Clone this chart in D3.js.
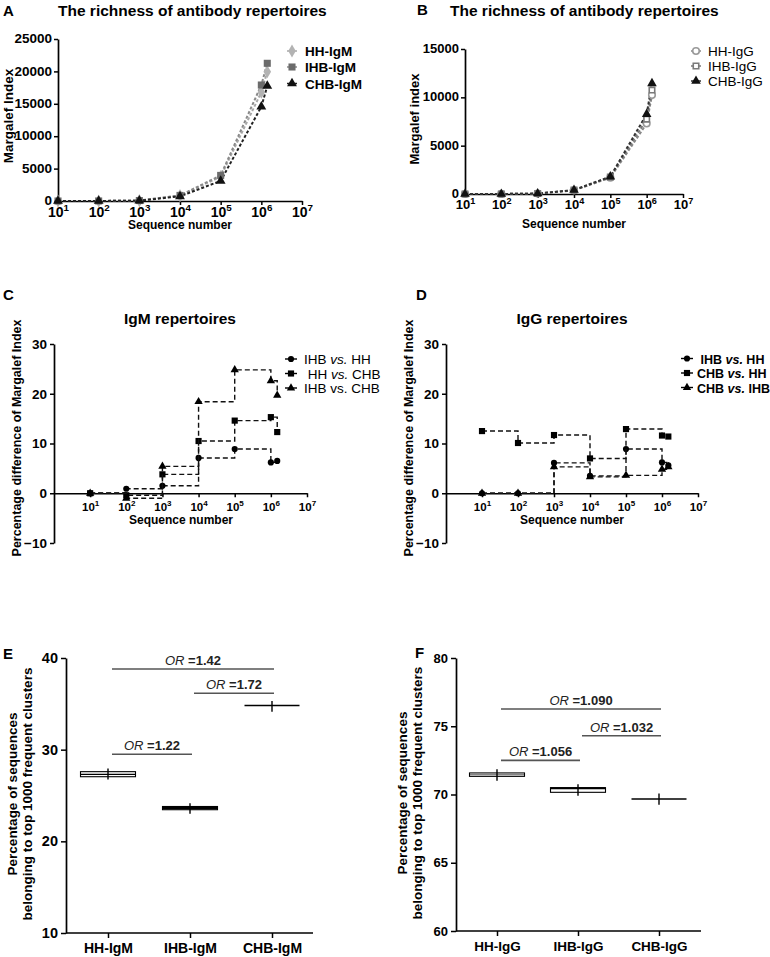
<!DOCTYPE html>
<html><head><meta charset="utf-8">
<script src="https://cdn.jsdelivr.net/npm/d3@7"></script>
<style>
body{margin:0;background:#fff;}
svg{font-family:"Liberation Sans",Arial,sans-serif;}
</style></head><body>
<svg id="c" width="770" height="957"></svg>
<script>
// ---------- Panel A / B data (Margalef index vs sequence number) ----------
const seqNumbers = [1e1, 1e2, 1e3, 1e4, 1e5, 1e6, 1.4e6];
const decades = [1e1, 1e2, 1e3, 1e4, 1e5, 1e6, 1e7];
const hhIgM  = [0, 5, 60, 820, 3750, 16800, 19950];
const ihbIgM = [0, 5, 70, 860, 3950, 17900, 21250];
const chbIgM = [0, 5, 55, 720, 3100, 14550, 17750];
const hhIgG  = [0, 5, 40, 380, 1690, 7290, 10230];
const ihbIgG = [0, 5, 45, 400, 1750, 7740, 10750];
const chbIgG = [0, 5, 45, 410, 1800, 8260, 11440];
const richTicksA = [0, 5000, 10000, 15000, 20000, 25000];
const richTicksB = [0, 5000, 10000, 15000];
const legendA = ["HH-IgM", "IHB-IgM", "CHB-IgM"];
const legendB = ["HH-IgG", "IHB-IgG", "CHB-IgG"];

// ---------- Panel C / D data (percentage difference) ----------
const seqDiff = [1e1, 1e2, 1e3, 1e4, 1e5, 1e6, 1.5e6];
const igmIHBvsHH  = [0, 0.9, 1.5, 7.1, 8.9, 6.2, 6.5];
const igmHHvsCHB  = [0, -0.4, 3.8, 10.5, 14.6, 15.3, 12.3];
const igmIHBvsCHB = [0, -1.0, 5.4, 18.4, 24.8, 22.6, 19.7];
const iggIHBvsHH  = [0, 0, 6.1, 3.5, 8.9, 6.2, 5.6];
const iggCHBvsHH  = [12.5, 10.1, 11.7, 7.0, 12.9, 11.6, 11.4];
const iggCHBvsIHB = [0, 0, 5.3, 3.3, 3.6, 4.8, 5.3];
const diffTicks = [-10, 0, 10, 20, 30];

// ---------- Panel E / F data (top 1000 clusters) ----------
const catsIgM = ["HH-IgM", "IHB-IgM", "CHB-IgM"];
const igmBoxLow  = [27.05, 23.45, 34.82];
const igmBoxHigh = [27.6, 23.8, 34.82];
const igmMedian  = [27.3, 23.62, 34.82];
const igmWhiskerLow  = [26.75, 23.0, 34.15];
const igmWhiskerHigh = [27.95, 24.15, 35.3];
const igmTicks = [10, 20, 30, 40];
const igmOR = ["1.22", "1.72", "1.42"];
const igmORfrom = [0, 1, 0];
const igmORto = [1, 2, 2];
const igmORy = [29.5, 36.15, 38.8];

const catsIgG = ["HH-IgG", "IHB-IgG", "CHB-IgG"];
const iggBoxLow  = [71.33, 70.16, 69.67];
const iggBoxHigh = [71.58, 70.5, 69.67];
const iggMedian  = [71.45, 70.45, 69.67];
const iggWhiskerLow  = [71.0, 69.9, 69.25];
const iggWhiskerHigh = [71.85, 70.75, 70.08];
const iggTicks = [60, 65, 70, 75, 80];
const iggOR = ["1.056", "1.032", "1.090"];
const iggORfrom = [0, 1, 0];
const iggORto = [1, 2, 2];
const iggORy = [72.5, 74.3, 76.26];

const svg = d3.select("#c");
const FONT = "Liberation Sans, Arial, sans-serif";

function styleAxis(g, fs) {
  g.attr("font-family", FONT).attr("font-size", fs).attr("font-weight", "bold");
  g.select(".domain").attr("stroke", "#000").attr("stroke-width", 1.7);
  g.selectAll(".tick line").attr("stroke", "#000").attr("stroke-width", 1.5);
  g.selectAll(".tick text").attr("fill", "#000");
}
function supText(sel, fs, yOff) {
  sel.each(function(d) {
    const t = d3.select(this);
    const e = Math.round(Math.log10(d));
    t.text(null).attr("y", yOff).attr("dy", 0);
    t.append("tspan").text("10");
    t.append("tspan").attr("dy", -fs * 0.42).attr("font-size", fs * 0.7).text(e);
  });
}
function txt(x, y, s, fs, opts = {}) {
  const t = svg.append("text").attr("x", x).attr("y", y).text(s)
    .attr("font-family", FONT).attr("font-size", fs)
    .attr("font-weight", opts.weight || "bold").attr("fill", opts.fill || "#000")
    .attr("text-anchor", opts.anchor || "start");
  if (opts.rotate) t.attr("transform", `rotate(-90,${x},${y})`);
  return t;
}

// ---------- richness panels ----------
function richness(o) {
  const g = svg.append("g");
  const x = d3.scaleLog().domain([1e1, 1e7]).range([o.left, o.right]);
  const y = d3.scaleLinear().domain([0, o.ymax]).range([o.bottom, o.top]);
  const ya = g.append("g").attr("transform", `translate(${o.left},0)`)
    .call(d3.axisLeft(y).tickValues(o.yticks).tickSize(4).tickPadding(2).tickSizeOuter(0).tickFormat(d3.format("d")));
  styleAxis(ya, o.yfs);
  ya.selectAll(".tick text").attr("dy", "0.28em");
  const xa = g.append("g").attr("transform", `translate(0,${o.bottom})`)
    .call(d3.axisBottom(x).tickValues(decades).tickSize(4).tickSizeOuter(0));
  styleAxis(xa, o.xfs);
  supText(xa.selectAll(".tick text"), o.xfs, o.xlabOff);
  o.series.forEach(s => {
    const pts = seqNumbers.map((v, i) => [v, s.values[i]]);
    g.append("path").datum(pts)
      .attr("d", d3.line().x(d => x(d[0])).y(d => y(d[1])))
      .attr("fill", "none").attr("stroke", s.line).attr("stroke-width", 2)
      .attr("stroke-dasharray", "3,2");
  });
  o.series.forEach(s => {
    const pts = seqNumbers.map((v, i) => [v, s.values[i]]);
    g.selectAll(null).data(pts).join("path")
      .attr("transform", d => `translate(${x(d[0])},${y(d[1])})`)
      .attr("d", d3.symbol(s.shape, s.size))
      .attr("fill", s.fill).attr("stroke", s.stroke).attr("stroke-width", s.sw);
  });
  // legend
  o.series.forEach((s, i) => {
    const ly = o.legY[i];
    svg.append("line").attr("x1", o.legX - 5).attr("x2", o.legX + 5).attr("y1", ly).attr("y2", ly)
      .attr("stroke", s.line).attr("stroke-width", 1.5);
    svg.append("path").attr("transform", `translate(${o.legX},${ly})`)
      .attr("d", d3.symbol(s.shape, s.size)).attr("fill", s.fill).attr("stroke", s.stroke).attr("stroke-width", s.sw);
    txt(o.legTX, ly + 5, o.legNames[i], o.legFs, { weight: o.legWeight });
  });
}

richness({
  left: 58, right: 302, top: 39, bottom: 201, ymax: 25000, yticks: richTicksA, yfs: 13.5, xfs: 14, xlabOff: 15.5,
  series: [
    { values: hhIgM, shape: d3.symbolDiamond, size: 50, fill: "#b3b3b3", stroke: "none", sw: 0, line: "#a8a8a8" },
    { values: ihbIgM, shape: d3.symbolSquare, size: 50, fill: "#6b6b6b", stroke: "none", sw: 0, line: "#8a8a8a" },
    { values: chbIgM, shape: d3.symbolTriangle, size: 42, fill: "#111", stroke: "none", sw: 0, line: "#222" }
  ],
  legX: 292, legTX: 305, legY: [51, 67, 83.5], legNames: legendA, legFs: 13.5, legWeight: "bold"
});
richness({
  left: 465, right: 683, top: 49, bottom: 194, ymax: 15000, yticks: richTicksB, yfs: 13, xfs: 13, xlabOff: 15,
  series: [
    { values: hhIgG, shape: d3.symbolCircle, size: 34, fill: "#fff", stroke: "#9a9a9a", sw: 1.6, line: "#888" },
    { values: ihbIgG, shape: d3.symbolSquare, size: 30, fill: "#fff", stroke: "#7a7a7a", sw: 1.6, line: "#777" },
    { values: chbIgG, shape: d3.symbolTriangle, size: 40, fill: "#111", stroke: "none", sw: 0, line: "#333" }
  ],
  legX: 696, legTX: 708, legY: [51, 66, 81], legNames: legendB, legFs: 13.5, legWeight: "normal"
});
txt(3, 16, "A", 15);
txt(58, 15.5, "The richness of antibody repertoires", 15.5);
txt(417, 14.5, "B", 15);
txt(450, 15.5, "The richness of antibody repertoires", 15.5);
txt(13, 116, "Margalef Index", 13.5, { anchor: "middle", rotate: true });
txt(419, 119, "Margalef index", 13, { anchor: "middle", rotate: true });
txt(180, 229, "Sequence number", 12, { anchor: "middle" });
txt(574, 227.5, "Sequence number", 12, { anchor: "middle" });

// ---------- step panels ----------
function stepPanel(o) {
  const g = svg.append("g");
  const x = d3.scaleLog().domain([1, 1e7]).range([o.left, o.right]);
  const y = d3.scaleLinear().domain([-10, 30]).range([543, 344]);
  const ya = g.append("g").attr("transform", `translate(${o.left},0)`)
    .call(d3.axisLeft(y).tickValues(diffTicks).tickSize(4).tickPadding(3).tickSizeOuter(0));
  styleAxis(ya, 13.5);
  const xa = g.append("g").attr("transform", `translate(0,${y(0)})`)
    .call(d3.axisBottom(x).tickValues(decades).tickSize(4).tickSizeOuter(0));
  styleAxis(xa, 11.5);
  supText(xa.selectAll(".tick text"), 11.5, 18);
  o.series.forEach(s => {
    const pts = seqDiff.map((v, i) => [v, s.values[i]]);
    g.append("path").datum(pts)
      .attr("d", d3.line().curve(d3.curveStepAfter).x(d => x(d[0])).y(d => y(d[1])))
      .attr("fill", "none").attr("stroke", "#111").attr("stroke-width", 1.4)
      .attr("stroke-dasharray", "5,3");
    g.selectAll(null).data(pts).join("path")
      .attr("transform", d => `translate(${x(d[0])},${y(d[1])})`)
      .attr("d", d3.symbol(s.shape, s.size)).attr("fill", "#000");
  });
  o.series.forEach((s, i) => {
    const ly = o.legY[i];
    svg.append("line").attr("x1", o.legX - 6).attr("x2", o.legX + 6).attr("y1", ly).attr("y2", ly)
      .attr("stroke", "#000").attr("stroke-width", 1.4);
    svg.append("path").attr("transform", `translate(${o.legX},${ly})`)
      .attr("d", d3.symbol(s.shape, s.size)).attr("fill", "#000");
    const t = svg.append("text").attr("x", o.legTX).attr("y", ly + 5)
      .attr("font-family", FONT).attr("font-size", o.legFs).attr("font-weight", o.legWeight).attr("xml:space", "preserve");
    t.append("tspan").text(s.name[0]);
    t.append("tspan").attr("font-style", s.name[2] ? "italic" : "normal").text(s.name[1]);
    t.append("tspan").text(s.name[3]);
  });
}
stepPanel({
  left: 54, right: 307,
  series: [
    { values: igmIHBvsHH, shape: d3.symbolCircle, size: 30, name: ["IHB ", "vs.", true, " HH"] },
    { values: igmHHvsCHB, shape: d3.symbolSquare, size: 38, name: [" HH ", "vs.", true, " CHB"] },
    { values: igmIHBvsCHB, shape: d3.symbolTriangle, size: 30, name: ["IHB ", "vs.", false, " CHB"] }
  ],
  legX: 291, legTX: 304, legY: [359, 373.5, 388], legFs: 13.5, legWeight: "normal"
});
stepPanel({
  left: 446, right: 698,
  series: [
    { values: iggIHBvsHH, shape: d3.symbolCircle, size: 30, name: [" IHB ", "vs.", true, " HH"] },
    { values: iggCHBvsHH, shape: d3.symbolSquare, size: 38, name: ["CHB ", "vs.", true, " HH"] },
    { values: iggCHBvsIHB, shape: d3.symbolTriangle, size: 30, name: ["CHB ", "vs.", true, " IHB"] }
  ],
  legX: 687, legTX: 697, legY: [358.5, 373, 387.5], legFs: 12.5, legWeight: "bold"
});
txt(3, 300, "C", 15);
txt(416, 300, "D", 15);
txt(180, 324, "IgM repertoires", 15.5, { anchor: "middle" });
txt(572, 324, "IgG repertoires", 15.5, { anchor: "middle" });
txt(21, 438, "Percentage difference of Margalef Index", 12.5, { anchor: "middle", rotate: true });
txt(413, 438, "Percentage difference of Margalef Index", 12.5, { anchor: "middle", rotate: true });
txt(181, 524, "Sequence number", 12, { anchor: "middle" });
txt(572, 524, "Sequence number", 12, { anchor: "middle" });

// ---------- box panels ----------
function boxPanel(o) {
  const g = svg.append("g");
  const y = d3.scaleLinear().domain([o.ticks[0], o.ticks[o.ticks.length - 1]]).range([o.bottom, o.top]);
  const x = d3.scalePoint().domain(o.cats).range([o.c0, o.c2]);
  const ya = g.append("g").attr("transform", `translate(${o.left},0)`)
    .call(d3.axisLeft(y).tickValues(o.ticks).tickSize(5).tickPadding(3).tickSizeOuter(0));
  styleAxis(ya, o.yfs);
  const xa = g.append("g").attr("transform", `translate(0,${o.bottom})`)
    .call(d3.axisBottom(x).tickSize(5).tickSizeOuter(0));
  styleAxis(xa, o.xfs);
  xa.select(".domain").remove();
  xa.selectAll(".tick text").attr("y", 20).attr("dy", 0);
  g.append("line").attr("x1", o.left).attr("x2", o.right).attr("y1", o.bottom).attr("y2", o.bottom)
    .attr("stroke", "#000").attr("stroke-width", 1.7);
  const bw = 55;
  o.cats.forEach((c, i) => {
    const cx = x(c);
    if (o.hi[i] > o.lo[i]) {
      g.append("rect").attr("x", cx - bw / 2).attr("width", bw)
        .attr("y", y(o.hi[i])).attr("height", y(o.lo[i]) - y(o.hi[i]))
        .attr("fill", "#fff").attr("stroke", "#000").attr("stroke-width", 1.1);
    }
    g.append("line").attr("x1", cx - bw / 2).attr("x2", cx + bw / 2)
      .attr("y1", y(o.med[i])).attr("y2", y(o.med[i])).attr("stroke", "#000").attr("stroke-width", o.medW[i]);
    g.append("line").attr("x1", cx).attr("x2", cx)
      .attr("y1", y(o.wlo[i])).attr("y2", y(o.whi[i])).attr("stroke", "#000").attr("stroke-width", 1.4);
  });
  o.or.forEach((lab, i) => {
    const x1 = x(o.cats[o.from[i]]) + 4, x2 = x(o.cats[o.to[i]]) + 2, yy = y(o.ory[i]);
    g.append("line").attr("x1", x1).attr("x2", x2).attr("y1", yy).attr("y2", yy)
      .attr("stroke", "#555").attr("stroke-width", 1.6);
    const t = g.append("text").attr("x", (x1 + x2) / 2).attr("y", yy - 4).attr("text-anchor", "middle")
      .attr("font-family", FONT).attr("font-size", 13).attr("fill", "#222").attr("xml:space", "preserve");
    t.append("tspan").attr("font-style", "italic").text("OR ");
    t.append("tspan").attr("font-weight", "bold").text("=" + lab);
  });
}
boxPanel({
  left: 66, right: 313, top: 658, bottom: 933, c0: 108, c2: 272, cats: catsIgM, ticks: igmTicks,
  lo: igmBoxLow, hi: igmBoxHigh, med: igmMedian, wlo: igmWhiskerLow, whi: igmWhiskerHigh, medW: [1.3, 2.2, 1.5],
  or: igmOR, from: igmORfrom, to: igmORto, ory: igmORy, yfs: 14.5, xfs: 14
});
boxPanel({
  left: 456, right: 701, top: 658, bottom: 931, c0: 497, c2: 659, cats: catsIgG, ticks: iggTicks,
  lo: iggBoxLow, hi: iggBoxHigh, med: iggMedian, wlo: iggWhiskerLow, whi: iggWhiskerHigh, medW: [0.6, 2, 1.5],
  or: iggOR, from: iggORfrom, to: iggORto, ory: iggORy, yfs: 13, xfs: 13.5
});
txt(3, 659, "E", 15);
txt(415, 658, "F", 15);
txt(17, 794, "Percentage of sequences", 13.5, { anchor: "middle", rotate: true });
txt(32, 794, "belonging to top 1000 frequent clusters", 13.5, { anchor: "middle", rotate: true });
txt(407, 793, "Percentage of sequences", 13.5, { anchor: "middle", rotate: true });
txt(422, 793, "belonging to top 1000 frequent clusters", 13.5, { anchor: "middle", rotate: true });
</script>
</body></html>
